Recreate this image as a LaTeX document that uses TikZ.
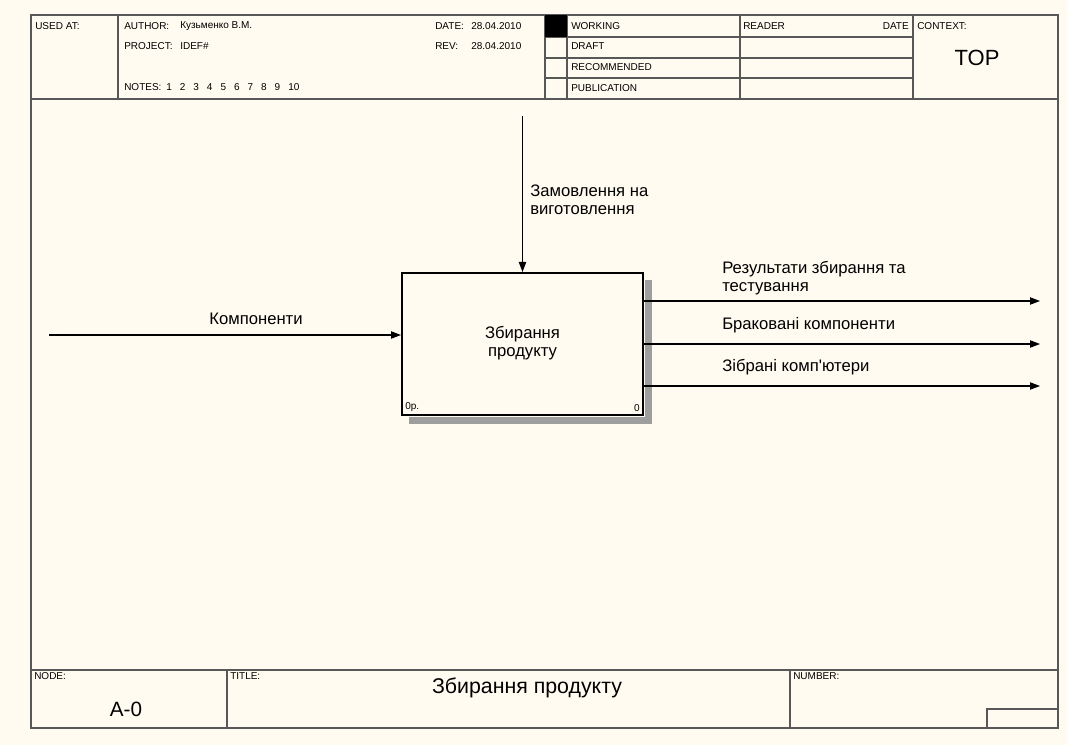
\documentclass[tikz,border=0pt]{standalone}
\usepackage{fontspec}
\setmainfont{Liberation Sans}
\usetikzlibrary{arrows.meta,positioning}
\definecolor{paper}{HTML}{FFFBF0}
\definecolor{rule}{HTML}{585858}
\newcommand{\hdr}{\fontsize{7.5}{9}\selectfont}
\newcommand{\lab}{\fontsize{12.5}{13.5}\selectfont}
\newcommand{\gap}{\hspace{6pt}}
\tikzset{
  flow/.style={draw=black,line width=0.8pt,-{Triangle[length=7.5pt,width=5.5pt]}},
  hatch/.style={fill=black!38},
  actbox/.style={draw=black,line width=1.5pt,minimum width=180.75pt,minimum height=106.5pt,align=center,font=\lab},
}
\begin{document}
\begin{tikzpicture}[x=0.75pt,y=-0.75pt]
        \fill[paper] (0,0) rectangle (1067,745);
        \useasboundingbox (0,0) rectangle (1067,745);
        % frame and header grid
        \begin{scope}[draw=rule,line width=1pt]
        \draw (31,15) rectangle (1058,728);
        \draw (31,99) -- (1058,99);
        \draw (31,670) -- (1058,670);
        \foreach \x in {118,545,567,740,913}
          \draw (\x,15) -- (\x,99);
        \foreach \y in {37,58,78}
          \draw (545,\y) -- (913,\y);
        \draw (227,670) -- (227,728);
        \draw (790,670) -- (790,728);
        \draw (987,728) -- (987,709) -- (1058,709);
        \end{scope}
        \fill (545,15) rectangle (567,37);
        \begin{scope}[every node/.style={anchor=west,inner sep=0pt,font=\hdr}]
        \node (used) at (35,26) {USED AT:};
        \node (auth) at (124,26) {AUTHOR:};
        \node (authv) at (180,26) {Кузьменко В.М.};
        \node (proj) at (124,46) {PROJECT:};
        \node (projv) at (180,46) {IDEF\#};
        \node (notes) at (124,87) {NOTES:};
        \node (notesv) at (166,87) {1\gap 2\gap 3\gap 4\gap 5\gap 6\gap 7\gap 8\gap 9\gap 10};
        \node (date) at (435,26) {DATE:};
        \node (datev) at (471,26) {28.04.2010};
        \node (rev) at (435,46) {REV:};
        \node (revv) at (471,46) {28.04.2010};
        \node (work) at (571,26) {WORKING};
        \node (draft) at (571,46) {DRAFT};
        \node (recom) at (571,67) {RECOMMENDED};
        \node (publ) at (571,88) {PUBLICATION};
        \node (reader) at (743,26) {READER};
        \node[anchor=east] (rdate) at (909,26) {DATE};
        \node (ctx) at (917,26) {CONTEXT:};
        \node (nodel) at (34,676) {NODE:};
        \node (titlel) at (230,676) {TITLE:};
        \node (numl) at (793,676) {NUMBER:};
        \end{scope}
        \node[font=\fontsize{16.5}{18}\selectfont] (top) at (977,58) {TOP};
        \node[font=\fontsize{16}{18}\selectfont] (title) at (527,688) {Збирання продукту};
        \node[font=\fontsize{15.5}{18}\selectfont] (nodev) at (126,709) {A-0};
        % activity box with shadow
        \node[actbox] (act) at (522.5,344) {Збирання\\продукту\\[-9pt]};
        \fill[hatch] ([shift={(1,8)}]act.north east) rectangle ([shift={(8,8)}]act.south east);
        \fill[hatch] ([shift={(8,1)}]act.south west) rectangle ([shift={(8,8)}]act.south east);
        \node[anchor=south west,inner sep=0pt,font=\hdr] (actno) at ([shift={(4,-4)}]act.south west) {0р.};
        \node[anchor=south east,inner sep=0pt,font=\hdr] (actid) at ([shift={(-4,-4)}]act.south east) {0};
        % arrows
        \coordinate (ctl) at (522.5,116);
        \coordinate (inp) at (49,335);
        \coordinate (out1) at (1040,301);
        \coordinate (out2) at (1040,344);
        \coordinate (out3) at (1040,386);
        \draw[flow] (ctl) -- (act.north);
        \draw[flow] (inp) -- (inp -| act.west);
        \draw[flow] (act.east |- out1) -- (out1);
        \draw[flow] (act.east |- out2) -- (out2);
        \draw[flow] (act.east |- out3) -- (out3);
        \begin{scope}[every node/.style={inner sep=0pt,font=\lab,align=left}]
        \node[anchor=north west] (ctllab) at (530,185) {Замовлення на\\виготовлення};
        \node (inplab) at (256,319) {Компоненти};
        \node[anchor=north west] (out1lab) at (722,261) {Результати збирання та\\тестування};
        \node[anchor=west] (out2lab) at (722,325) {Браковані компоненти};
        \node[anchor=west] (out3lab) at (722,367) {Зібрані комп\textquotesingle ютери};
        \end{scope}
\end{tikzpicture}
\end{document}
